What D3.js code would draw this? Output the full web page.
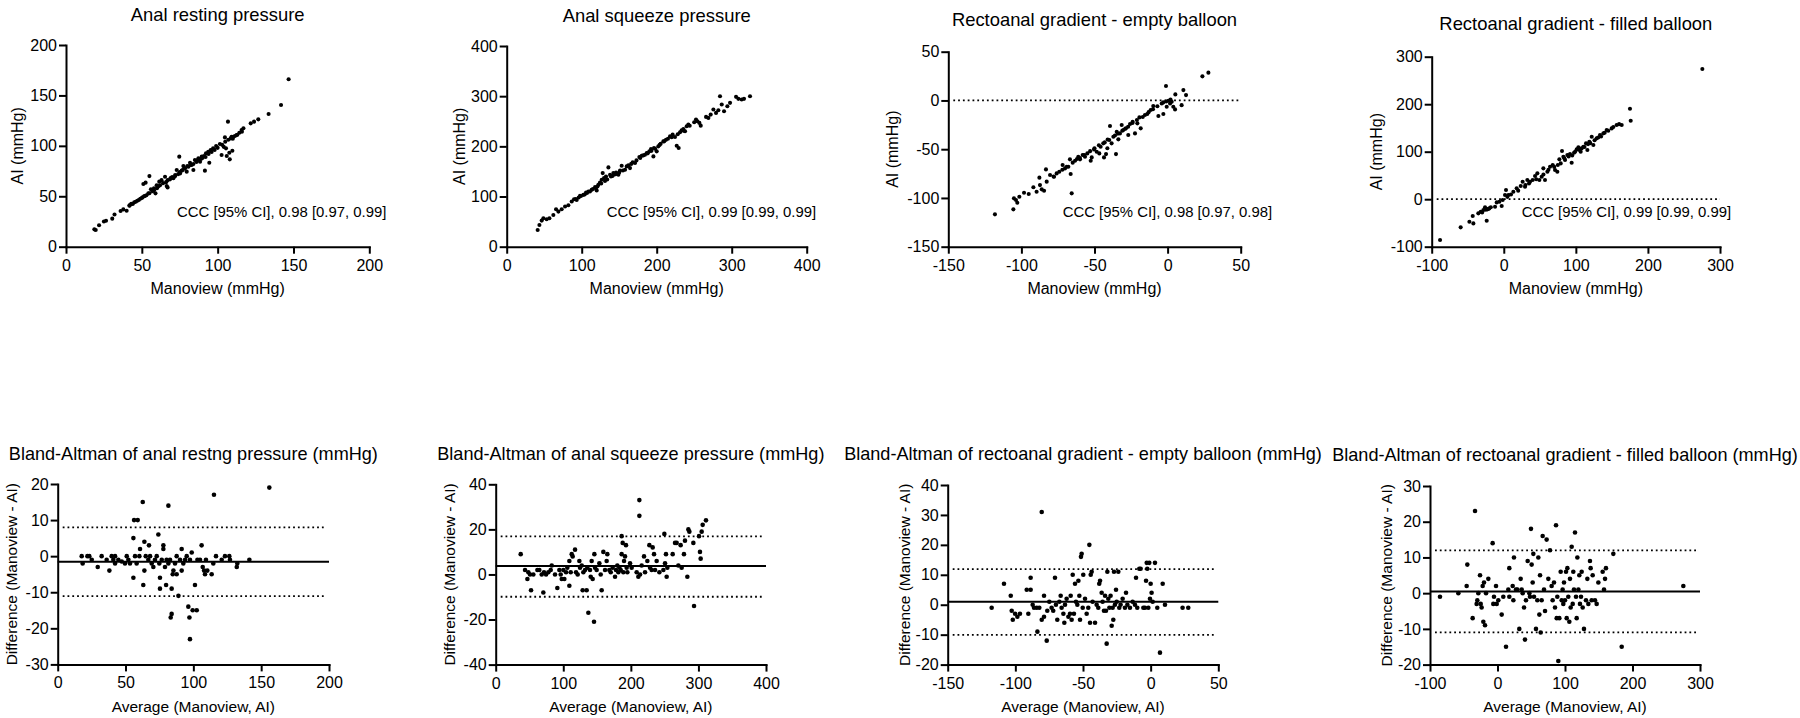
<!DOCTYPE html>
<html>
<head>
<meta charset="utf-8">
<script src="https://cdn.jsdelivr.net/npm/d3@7/dist/d3.min.js"></script>
<style>
  html, body { margin: 0; padding: 0; background: #fff; }
  svg { display: block; }
</style>
</head>
<body>
<svg id="chart" width="1800" height="718"></svg>
<script>
// ---------------- DATA ----------------
// Scatter: [Manoview, AI]
const restingPts = [
 [18.7,17.2],[19.6,16.5],[21.8,21.2],[25,25],[26.4,25.8],[30.5,27.8],[32,32],[36,35.4],[37.8,37],[40,35.7],
 [41.8,40.7],[44,42.3],[46,44.6],[48,46.3],[50,48.3],[52,50.2],[54.3,52.9],[51,62.1],[52.5,63.5],[55,70],
 [56,57],[58,57.9],[59,52.9],[59.8,61],[61.5,64.5],[63,66],[65.3,69.4],[66.4,60.2],[67,58.8],[68.6,66.8],
 [70.8,67.8],[72,70],[73,76],[74.7,89.3],[75.2,72.7],[76.3,75.4],[77.4,80],[78.5,77.7],[79.6,74.4],[80.7,79.3],
 [81.8,83.3],[82.9,81],[84,76],[85,86],[87.3,87.6],[88.4,84.3],[89.5,89.3],[91,90],[91.6,75.4],[92.3,92.6],
 [93.8,94.2],[94.5,83.3],[95.4,95.9],[97,97.5],[99,99.8],[101.5,101.8],[102.6,91],[104,99],[104.8,108.4],[105.5,97.5],
 [106,90],[106.8,124],[107.7,93.2],[108,86.6],[108.6,107.4],[109.2,109],[109.7,95.2],[110.3,109],[111.4,109.8],[112.5,110.7],
 [114.3,113],[115.8,115.7],[117,117.4],[121.8,122.3],[124,124],[126.8,126.3],[133.6,131.6],[141.8,140.5],[146.8,166],
 [42,41],[43,42.5],[45,44],[47,45.5],[49,47.5],[50.5,49],[51.5,50],[53,51],[55,53],[57,55],[58,56],[60,58],[61,60],
 [62,61],[64,63],[66,64],[67,66],[69,68],[70,69],[72,71],[74,72],[75,74],[77,76],[78,78],[80,80],[82,81],[84,82],
 [86,84],[87,86],[89,87],[90,88],[92,89],[94,92],[96,94],[98,96],[100,98],[103,101],[105,104],[107,106],[110,107],
 [113,111],[116,114]
];
const squeezePts = [
 [41.3,33.3],[43.6,43.3],[46.7,52],[48.9,56.7],[53.3,54.7],[56.9,56.7],[62.2,63.3],[65.8,74.7],[68.9,70],[73.3,74.7],
 [77.8,80],[82.2,82.7],[86.7,90],[89.8,94.7],[93.3,93.3],[97.8,101.3],[102.2,103.3],[105.8,108],[108.9,110],[113.3,113.3],
 [117.8,118.7],[120,112],[122.2,123.3],[124.4,128],[126.7,133.3],[128,146.7],[129.8,136.7],[132.4,140],[135.6,158],[137.8,143.3],
 [142.2,146.7],[145.8,148],[148.9,143.3],[151.1,152],[153.3,161.3],[157.8,153.3],[162.2,162],[164.4,156.7],[168,168],[171.1,166.7],
 [176.9,178.7],[180,181.3],[184.4,183.3],[186.7,186.7],[190.2,190],[192.4,194.7],[195.6,180],[196.4,196.7],[200,190],[202.2,200],
 [205.3,205.3],[208.9,210],[212.4,213.3],[217.8,220],[221.3,223.3],[224.4,218.7],[226.7,201.3],[229.3,196.7],[231.1,228],[233.3,232],
 [235.6,234.7],[237.8,230],[240,240],[242.2,243.3],[252.4,253.3],[254.2,250],[256.9,246.7],[258.7,241.3],[265.8,258.7],[268.9,256.7],
 [272,263.3],[275.6,273.3],[279.1,266.7],[282.2,272],[284.4,300],[286.7,283.3],[289.8,270],[294.2,280],[297.8,286.7],[305.8,298.7],
 [308.9,294.7],[313.3,293.3],[316.4,294.7],[324.4,300],
 [92,95],[96,98],[99,101],[104,104],[107,107],[111,110],[115,115],[119,117],[121,120],[126,126],[131,131],[134,134],
 [139,140],[141,141],[144,144],[147,145],[150,148],[155,152],[160,160],[166,165],[173,172],[178,177],[182,182],[188,186],
 [193,191],[198,195],[204,203],[210,210],[215,215],[220,218],[228,224],[236,231],[244,241],[250,248]
];
const emptyPts = [
 [-118.1,-116.8],[-105.5,-111.7],[-105.1,-100.4],[-103.7,-102.1],[-102.8,-104.9],[-101.4,-98.7],[-98.2,-94.6],[-91.8,-89.1],[-89.6,-93.6],[-87.7,-79.2],
 [-87.3,-86.8],[-86.1,-91.2],[-84.5,-92.6],[-83.2,-70.7],[-82.7,-83.3],[-80.4,-76.5],[-77.7,-78.2],[-75.9,-74.8],[-74.1,-73.1],[-71.8,-66.2],
 [-70.2,-69.7],[-67.9,-68],[-66.8,-60.4],[-66.3,-75.5],[-65.6,-95.3],[-64.9,-63.8],[-63.3,-61.8],[-61.1,-57.7],[-59.9,-60.4],[-58.1,-56],
 [-56.5,-57.7],[-54.9,-54.3],[-52.6,-61.8],[-51.9,-58.4],[-50.3,-50.2],[-48.5,-52.6],[-46.7,-54.3],[-45.8,-47.5],[-44,-44],[-43.5,-58.4],
 [-42.1,-55],[-41.2,-49.1],[-39.9,-40.6],[-39.4,-26.2],[-38.3,-44],[-37.1,-37.2],[-35.3,-55],[-34.8,-32.1],[-33.7,-39.9],[-32.6,-33.8],
 [-31.4,-25.2],[-30.3,-30.3],[-28.5,-28.6],[-26.9,-35.5],[-25.7,-24.2],[-23.9,-21.8],[-22.3,-33.8],[-20.7,-23.5],[-19.3,-17.4],[-18.4,-28.6],
 [-15.5,-15],[-13.9,-13.9],[-11.6,-9.8],[-9.8,-5.8],[-6.3,-16],[-4,-3.1],[-2.9,-13.9],[-1.1,14.8],[-0.6,-6.5],[0.5,-0.3],
 [1.7,-3.1],[2.8,-1.4],[3.9,-6.5],[5.1,-9.2],[5.3,6.2],[9.6,-4.8],[10.8,10.6],[12.6,5.5],[23.8,24.7],[27.9,28.5],
 [-95,-96],[-78,-78],[-72,-71],[-69,-68],[-62,-60],[-60,-59],[-57,-56],[-53,-52],[-50,-49],[-47,-46],[-43,-43],[-41,-40],
 [-36,-36],[-34,-34],[-31,-31],[-29,-29],[-27,-27],[-24,-23],[-21,-20],[-17,-17],[-13,-12],[-10,-9],[-7,-6],[-3,-2],[-1,-1],[2,1]
];
const filledPts = [
 [-88.4,-86],[-59.8,-59.3],[-47.7,-47.4],[-43.1,-35.4],[-42.2,-50.9],[-35.3,-29.8],[-32,-26.3],[-28.3,-22.8],[-26,-17.2],[-23.7,-45.3],
 [-22.8,-21.4],[-20,-19.3],[-12.1,-15.8],[-9.8,-6.7],[-6.1,-5.3],[-2.9,-14.4],[-1.5,-1.8],[1.7,8.8],[3.1,19.3],[6.4,8.8],
 [13.3,15.8],[17.9,22.8],[23.5,27.7],[26.2,36.8],[29.5,26.3],[32.7,40.4],[36.4,36.8],[40.1,40.4],[43.4,48.8],[46.6,54.4],
 [49.4,40.4],[52.6,47.4],[54.9,64.9],[57.2,40.4],[60.5,57.9],[64.2,68.4],[67.9,71.9],[71.1,61.4],[74.3,57.9],[77.1,83.9],
 [79,75.4],[80.8,101.4],[82.7,89.5],[85,82.5],[88.2,93],[91.9,95.1],[94.2,76.8],[97.5,97.9],[101.2,104.9],[103.5,109.1],
 [106.7,100],[110.4,110.5],[114.1,117.5],[116,103.5],[118.7,121.1],[122,131.6],[124.3,114],[128.9,128.1],[133.5,135.1],[138.2,138.6],
 [142.8,145.6],[149.7,149.1],[156.6,156.1],[163.6,156.1],[175.1,190.5],[176.1,165.3],[275.5,274],
 [-30,-28],[-25,-22],[-21,-20],[-18,-17],[5,5],[10,10],[20,18],[30,30],[35,33],[45,42],[55,52],[62,62],[70,68],[75,72],
 [84,86],[90,90],[95,92],[99,100],[104,104],[108,107],[112,110],[117,116],[120,118],[126,124],[131,130],[135,132],[140,140],
 [145,144],[152,152],[160,158]
];
// Bland-Altman: [Average, Difference]
const baRestPts = [
 [17.7,0],[18.4,-2],[21.9,0],[23.3,0],[25.1,-1],[29.5,-3],[32.4,0],[36.1,-1],[38.1,-4],[39.8,0],[41,-1],[42.3,0],[42.3,-2],
 [44.7,-1],[47.2,-1.5],[49.6,-2],[50.9,0],[52.1,-1],[53.3,-2],[55.8,5],[55.8,-6],[56.3,10],[57,0],[58.2,-2],[59,10],[60.2,0],
 [60.7,2],[62.7,15],[63.1,-8],[63.9,4],[63.9,-4],[64.9,0],[66.8,-1],[67.3,3],[68.1,0],[69.3,-2],[70.5,-3],[71.7,-1],[73,0],
 [74.2,6],[74.9,-2],[75.4,-6],[75.4,-9],[76.7,-1],[77.9,3],[77.9,2],[79.1,-3],[79.9,-8],[80.3,-1],[81.6,14],[81.6,-2],[82.8,-1],
 [83.3,-17],[84,-16],[84,-9],[84.8,-5],[85.3,-4],[86.5,-2],[87.7,0],[87.7,-5],[89,-11],[90.2,-1],[91.4,2],[91.4,-4],[92.6,-2],
 [93.9,-1],[95.1,0],[96.3,-14],[97.1,-17],[97.5,-23],[97.5,-1],[98.8,1],[99.5,-15],[101.2,-8],[102.5,-15],[103,-1],[104.9,-1],
 [106.1,3],[106.9,-3],[107.9,-4],[108.6,-5],[109.3,-1],[110.3,-4],[113.5,-5],[114.7,-2],[115.2,17],[116.7,0],[120.9,-1],[123.3,0],
 [126.5,0],[127,-1],[132,-3],[132.4,-2],[141.3,-1],[156,19]
];
const baSqueezePts = [
 [37,9],[43.4,2],[46.9,-2],[48.3,1],[50.8,0],[52.3,-7],[55.7,0],[61.7,2],[64.6,2],[68.1,0],[70.5,-8],[71.5,1],[74.5,0],[77.9,1],
 [81.4,2],[82.9,4],[87.8,0],[91.2,-6],[94.2,2],[96.2,0],[97.7,-2],[100.1,2],[101.6,-2],[104.1,1],[106,3],[109,-5],[109,6],[111,1],
 [112.5,9],[113.9,8],[117.4,11],[118.9,1],[121.3,0],[123.8,6],[124.8,3],[127.3,4],[128.7,-7],[129.7,1],[132.2,2],[134.6,-7],
 [135.6,3],[137.1,-17],[139.6,2],[140.6,-1],[142,6],[143.5,-2],[145.5,-21],[146,9],[147,3],[149.4,2],[153.4,5],[155.4,0],[156.8,-7],
 [159.3,10],[161.8,2],[164.2,6],[165.2,9],[168.2,2],[170.2,1],[173.1,3],[176.6,-1],[178,2],[180,4],[181.5,1],[183,3],[185,2],
 [186.4,17],[186.4,9],[187.9,14],[188.9,1],[189.9,6],[191.4,8],[192.8,13],[193.8,3],[194.8,1],[198.8,5],[201.2,3],[208.6,1],
 [211.1,-1],[212.6,33],[212.6,26],[213.6,0],[216,4],[219.5,8],[221,1],[224.4,6],[227.4,13],[228.4,3],[230.8,2],[232.3,12],
 [234.3,9],[235.8,2],[238.2,6],[242.2,1],[248.1,2],[249.6,18],[250.6,5],[252,9],[253,-1],[254,3],[261.9,9],[265.4,14],[267.8,14],
 [270.3,4],[273.7,13],[275.2,3],[278.6,9],[280.1,15],[283.6,-1],[285.1,20],[286.6,19],[292.5,14],[293.5,-14],[300.9,17],[302.3,10],
 [303.3,7],[304.8,19],[306.3,22],[311.2,24]
];
const baEmptyPts = [
 [-117.5,-1],[-108.4,7],[-103.4,3],[-102.7,-2],[-101.9,-5],[-100.2,-3],[-98.5,-4],[-96.6,-3],[-91.6,5],[-90.4,-3],[-88.7,5],[-88.7,9],
 [-87.2,0],[-86.2,-1],[-84.2,-1],[-83.7,-9],[-82.3,-1],[-80.5,-5],[-80.5,31],[-78.8,3],[-78.8,-4],[-76.8,-12],[-76.4,-2],[-74.9,1],
 [-73.2,-1],[-72,-2],[-70.7,9],[-70,0],[-69,-5],[-67.5,1],[-66.5,3],[-65.8,-1],[-64.5,-3],[-63.8,-6],[-63.3,0],[-62.1,2],[-60.8,-4],
 [-59.6,-3],[-59.1,3],[-58.4,-5],[-57.6,10],[-56.7,-3],[-55.9,7],[-55.2,1],[-54.2,0],[-53.4,8],[-52.7,3],[-52.2,-5],[-51.5,16],
 [-51,17],[-50.2,-1],[-49.8,10],[-48.5,2],[-47.3,-3],[-46.1,-1],[-45.3,20],[-44.8,-6],[-44.3,10],[-43.6,11],[-42.9,1],[-41.1,-6],
 [-39.9,0],[-38.7,-1],[-38,7],[-37.4,8],[-36.2,4],[-35.5,1],[-34.5,-2],[-33.7,3],[-33,-2],[-32.5,-13],[-32,11],[-31.3,2],[-30.5,-1],
 [-29.6,3],[-28.8,-7],[-28.1,-1],[-27.6,-5],[-27.1,11],[-26.4,0],[-25.6,5],[-25.1,1],[-23.9,11],[-23.2,-1],[-22.2,0],[-20.7,2],
 [-19,-1],[-18.2,4],[-17.2,0],[-15.3,-1],[-13.3,1],[-11.6,0],[-10.8,9],[-9.9,-1],[-8.4,12],[-7.4,12],[-5.4,-1],[-4.2,-1],[-3.4,8],
 [-2.9,14],[-2.5,12],[-1.7,-1],[-1,14],[-0.5,2],[0,7],[0.7,4],[1.5,1],[3.2,14],[4.9,-1],[6.9,-16],[8.9,7],[10.6,0],[23.6,-1],[27.8,-1]
];
const baFilledPts = [
 [-85.2,-1],[-58,0],[-45.7,2],[-44.7,8],[-36.8,-7],[-33.3,23],[-30.9,-3],[-29.9,-2],[-28.4,0],[-25.9,5],[-24.9,-3],[-23.5,-4],[-22,2],
 [-21,-8],[-20,3],[-18.5,-9],[-17,0],[-13.6,4],[-7.2,14],[-6.2,-3],[-5.2,-1],[-2.2,2],[-1.2,-3],[1.2,-2],[6.2,-6],[8.6,-1],[12.6,-15],
 [16,1],[17.5,7],[17.5,-1],[22.5,2],[23.5,-2],[24.4,10],[27.4,1],[29.4,1],[32.3,-10],[34.3,4],[35.8,1],[37.3,0],[39.3,-4],[40.7,-13],
 [42.2,-2],[44.7,9],[47.2,0],[48.1,-1],[49.6,18],[50.6,8],[52.1,3],[53.1,11],[54.1,-1],[57,-10],[59,-2],[60.5,10],[62,-6],[63,5],
 [64,-11],[65.4,-2],[66.9,16],[68.9,1],[70.4,-5],[72.8,15],[75.3,4],[77.8,12],[80.2,2],[81.7,-2],[83.7,3],[85.2,-4],[86.7,19],
 [87.7,-7],[88.6,-1],[90.1,-19],[91.6,-7],[93.6,6],[95.1,-2],[96.5,1],[97.5,-3],[98.5,3],[100,-2],[101.5,6],[102.5,-7],[103.5,7],
 [104.9,-1],[106.4,-8],[107.4,4],[108.4,-4],[109.9,13],[111.4,-3],[112.3,6],[113.3,1],[114.8,17],[116.3,-1],[117.3,-7],[118.3,10],
 [119.8,1],[121.2,5],[122.2,-3],[123.7,-1],[124.7,6],[126.2,-4],[128.1,-10],[131.1,-2],[133.1,4],[134.6,-3],[137,9],[138,7],
 [139.5,-2],[141,5],[144.4,-2],[146.9,-3],[149.4,3],[155.8,6],[157.8,1],[159.3,4],[160.7,7],[171.6,11],[184,-15],[275.3,2]
];
// Bland-Altman reference lines: [mean bias, upper LoA, lower LoA]
const baRestLines = [-1.55, 8.0, -11.05];
const baSqueezeLines = [3.7, 16.9, -9.9];
const baEmptyLines = [1.0, 11.9, -10.1];
const baFilledLines = [0.45, 12.0, -11.0];
// Titles / labels
const topTitles = ["Anal resting pressure", "Anal squeeze pressure", "Rectoanal gradient - empty balloon", "Rectoanal gradient - filled balloon"];
const bottomTitles = ["Bland-Altman of anal restng pressure (mmHg)", "Bland-Altman of anal squeeze pressure (mmHg)",
  "Bland-Altman of rectoanal gradient - empty balloon (mmHg)", "Bland-Altman of rectoanal gradient - filled balloon (mmHg)"];
const cccLabels = ["CCC [95% CI], 0.98 [0.97, 0.99]", "CCC [95% CI], 0.99 [0.99, 0.99]", "CCC [95% CI], 0.98 [0.97, 0.98]", "CCC [95% CI], 0.99 [0.99, 0.99]"];
// Ticks
const ticksRest = [0, 50, 100, 150, 200];
const ticksSqueeze = [0, 100, 200, 300, 400];
const ticksEmpty = [-150, -100, -50, 0, 50];
const ticksFilled = [-100, 0, 100, 200, 300];
const baTicksRestY = [-30, -20, -10, 0, 10, 20];
const baTicksSqueezeY = [-40, -20, 0, 20, 40];
const baTicksEmptyY = [-20, -10, 0, 10, 20, 30, 40];
const baTicksFilledY = [-20, -10, 0, 10, 20, 30];

// ---------------- LAYOUT ----------------
const FONT = "'Liberation Sans', Arial, Helvetica, sans-serif";
const svg = d3.select("#chart");

const topPanels = [
  {pts: restingPts, xt: ticksRest, yt: ticksRest, box: [66, 369.3, 45, 246.7], titleY: 20.7, ylabX: 16.8, cccX: 177, zero: false},
  {pts: squeezePts, xt: ticksSqueeze, yt: ticksSqueeze, box: [506.7, 806.7, 46, 246.7], titleY: 21.7, ylabX: 458.8, cccX: 606.7, zero: false},
  {pts: emptyPts, xt: ticksEmpty, yt: ticksEmpty, box: [948.3, 1240.7, 51.7, 246.7], titleY: 26, ylabX: 892.2, cccX: 1062.7, zero: true},
  {pts: filledPts, xt: ticksFilled, yt: ticksFilled, box: [1431.7, 1720, 56.7, 246.7], titleY: 30, ylabX: 1376.7, cccX: 1521.7, zero: true}
];
const botPanels = [
  {pts: baRestPts, lines: baRestLines, xt: ticksRest, yt: baTicksRestY, box: [57.7, 329, 484, 664.4], ylabX: 11.7, titleY: 459.5},
  {pts: baSqueezePts, lines: baSqueezeLines, xt: ticksSqueeze, yt: baTicksSqueezeY, box: [495.7, 766, 484.3, 664.6], ylabX: 449.7, titleY: 459.5},
  {pts: baEmptyPts, lines: baEmptyLines, xt: ticksEmpty, yt: baTicksEmptyY, box: [947.7, 1218.3, 485, 664.6], ylabX: 904.5, titleY: 459.5},
  {pts: baFilledPts, lines: baFilledLines, xt: ticksFilled, yt: baTicksFilledY, box: [1430, 1700, 486, 664.6], ylabX: 1386.3, titleY: 461}
];

function drawAxes(g, x, y, xt, yt, box) {
  const [x0, x1, y0, y1] = box;
  const xAxis = d3.axisBottom(x).tickValues(xt).tickSize(7).tickSizeOuter(0).tickPadding(5.6).tickFormat(d => String(d));
  const yAxis = d3.axisLeft(y).tickValues(yt).tickSize(7).tickSizeOuter(0).tickPadding(2).tickFormat(d => String(d));
  const gx = g.append("g").attr("transform", `translate(0,${y1})`).call(xAxis);
  const gy = g.append("g").attr("transform", `translate(${x0},0)`).call(yAxis);
  [gx, gy].forEach(a => {
    a.selectAll("path.domain").attr("stroke", "#000").attr("stroke-width", 2).attr("stroke-linecap", "square");
    a.selectAll(".tick line").attr("stroke", "#000").attr("stroke-width", 2);
    a.selectAll(".tick text").attr("fill", "#000").style("font-family", FONT).style("font-size", "16px");
  });
}

function dotted(g, x1, x2, yy) {
  g.append("line").attr("x1", x1).attr("x2", x2).attr("y1", yy).attr("y2", yy)
    .attr("stroke", "#000").attr("stroke-width", 1.8).attr("stroke-dasharray", "1.8,3");
}

topPanels.forEach((p, i) => {
  const [x0, x1, y0, y1] = p.box;
  const x = d3.scaleLinear().domain(d3.extent(p.xt)).range([x0, x1]);
  const y = d3.scaleLinear().domain(d3.extent(p.yt)).range([y1, y0]);
  const g = svg.append("g");
  if (p.zero) dotted(g, x0 + 5, x1, y(0));
  drawAxes(g, x, y, p.xt, p.yt, p.box);
  g.append("g").selectAll("circle").data(p.pts).join("circle")
    .attr("cx", d => x(d[0])).attr("cy", d => y(d[1])).attr("r", 2.05).attr("fill", "#000");
  const cx = (x0 + x1) / 2;
  g.append("text").attr("x", cx).attr("y", p.titleY).attr("text-anchor", "middle")
    .style("font-family", FONT).style("font-size", "18.4px").text(topTitles[i]);
  g.append("text").attr("x", cx).attr("y", 294).attr("text-anchor", "middle")
    .style("font-family", FONT).style("font-size", "16px").text("Manoview (mmHg)");
  g.append("text").attr("transform", `translate(${p.ylabX},${(y0 + y1) / 2}) rotate(-90)`).attr("dy", "0.36em")
    .attr("text-anchor", "middle").style("font-family", FONT).style("font-size", "16px").text("AI (mmHg)");
  g.append("text").attr("x", p.cccX).attr("y", 216.7)
    .style("font-family", FONT).style("font-size", "14.9px").text(cccLabels[i]);
});

botPanels.forEach((p, i) => {
  const [x0, x1, y0, y1] = p.box;
  const x = d3.scaleLinear().domain(d3.extent(p.xt)).range([x0, x1]);
  const y = d3.scaleLinear().domain(d3.extent(p.yt)).range([y1, y0]);
  const g = svg.append("g");
  // limits of agreement (dotted) and mean bias (solid)
  dotted(g, x0 + 5, x1 - 3, y(p.lines[1]));
  dotted(g, x0 + 5, x1 - 3, y(p.lines[2]));
  g.append("line").attr("x1", x0).attr("x2", x1).attr("y1", y(p.lines[0])).attr("y2", y(p.lines[0]))
    .attr("stroke", "#000").attr("stroke-width", 2);
  drawAxes(g, x, y, p.xt, p.yt, p.box);
  g.append("g").selectAll("circle").data(p.pts).join("circle")
    .attr("cx", d => x(d[0])).attr("cy", d => y(d[1])).attr("r", 2.3).attr("fill", "#000");
  const cx = (x0 + x1) / 2;
  g.append("text").attr("x", cx).attr("y", p.titleY).attr("text-anchor", "middle")
    .style("font-family", FONT).style("font-size", "18.1px").text(bottomTitles[i]);
  g.append("text").attr("x", cx).attr("y", 711.5).attr("text-anchor", "middle")
    .style("font-family", FONT).style("font-size", "15.5px").text("Average (Manoview, AI)");
  g.append("text").attr("transform", `translate(${p.ylabX},${(y0 + y1) / 2}) rotate(-90)`).attr("dy", "0.36em")
    .attr("text-anchor", "middle").style("font-family", FONT).style("font-size", "15.5px").text("Difference (Manoview - AI)");
});
</script>
</body>
</html>
